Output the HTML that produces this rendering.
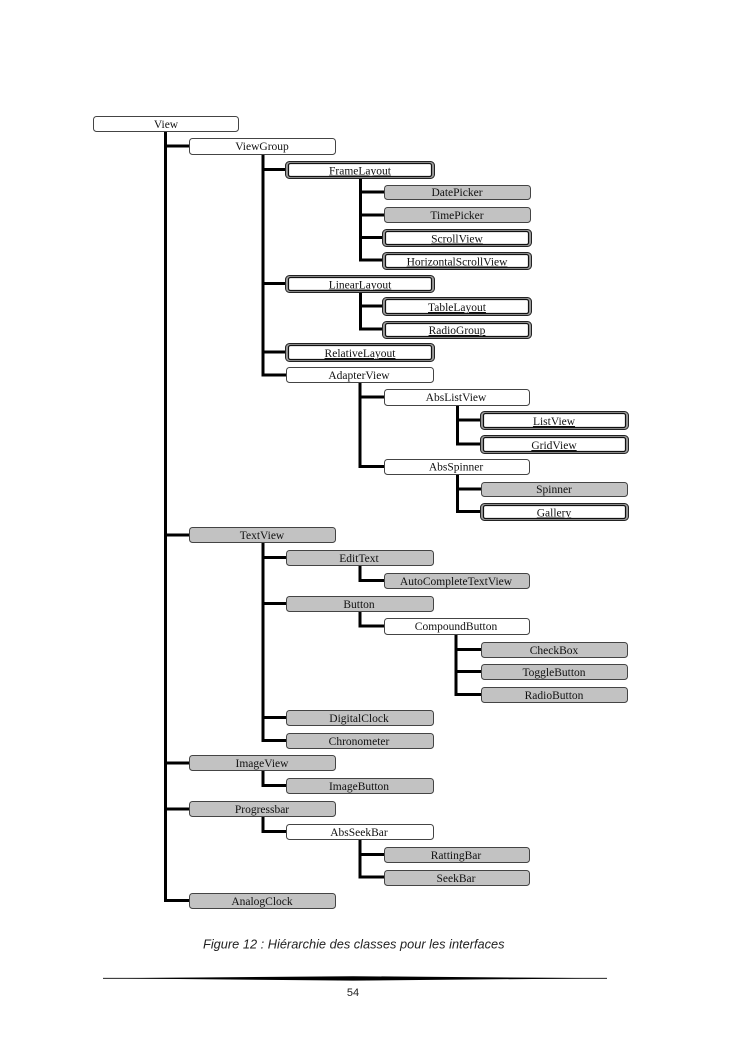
<!DOCTYPE html>
<html><head><meta charset="utf-8"><style>
html,body{margin:0;padding:0;background:#fff;}
body{width:745px;height:1053px;position:relative;overflow:hidden;}
svg{position:absolute;left:0;top:0;}
.t{font-family:"Liberation Serif","DejaVu Serif",serif;font-size:11.5px;fill:#111;text-anchor:middle;}
.u{text-decoration:underline;}
</style></head><body>
<svg width="745" height="1053" viewBox="0 0 745 1053" xmlns="http://www.w3.org/2000/svg">
<g stroke="#000" stroke-width="3" fill="none" stroke-linecap="square">
<!-- main -->
<path d="M165.5 131 V900.5 M165.5 146 H189 M165.5 535 H189 M165.5 763 H189 M165.5 809 H189 M165.5 900.5 H189"/>
<!-- ViewGroup -->
<path d="M263 154 V375 M263 169.5 H285 M263 283.5 H285 M263 352 H285 M263 375 H286"/>
<!-- FrameLayout -->
<path d="M360.5 178 V260 M360.5 192 H384 M360.5 215 H384 M360.5 237.5 H382 M360.5 260 H382"/>
<!-- LinearLayout -->
<path d="M360.5 292 V329 M360.5 306 H382 M360.5 329 H382"/>
<!-- AdapterView -->
<path d="M360 382 V466.5 M360 397 H384 M360 466.5 H384"/>
<!-- AbsListView -->
<path d="M457.5 405 V444 M457.5 420 H480 M457.5 444 H480"/>
<!-- AbsSpinner -->
<path d="M457.5 474 V511.5 M457.5 489 H481 M457.5 511.5 H480"/>
<!-- TextView -->
<path d="M263 543 V740.5 M263 557.5 H286 M263 603.5 H286 M263 717.5 H286 M263 740.5 H286"/>
<!-- EditText -->
<path d="M360 565 V580.5 H384"/>
<!-- Button -->
<path d="M360 611 V626 H384"/>
<!-- CompoundButton -->
<path d="M456 634 V694.5 M456 649.5 H481 M456 671.5 H481 M456 694.5 H481"/>
<!-- ImageView -->
<path d="M263 770 V785.5 H286"/>
<!-- Progressbar -->
<path d="M263 816 V831.5 H286"/>
<!-- AbsSeekBar -->
<path d="M360 839 V877 M360 854.5 H384 M360 877 H384"/>
</g>

<!-- white boxes -->
<g fill="#fff" stroke="#444" stroke-width="1">
<rect x="93.5" y="116.5" width="145" height="15" rx="3"/>
<rect x="189.5" y="138.5" width="146" height="16" rx="3"/>
<rect x="286.5" y="367.5" width="147" height="15" rx="3"/>
<rect x="384.5" y="389.5" width="145" height="16" rx="3"/>
<rect x="384.5" y="459.5" width="145" height="15" rx="3"/>
<rect x="384.5" y="618.5" width="145" height="16" rx="3"/>
<rect x="286.5" y="824.5" width="147" height="15" rx="3"/>
</g>
<!-- gray boxes -->
<g fill="#c2c2c2" stroke="#444" stroke-width="1">
<rect x="384.5" y="185.5" width="146" height="14" rx="3"/>
<rect x="384.5" y="207.5" width="146" height="15" rx="3"/>
<rect x="481.5" y="482.5" width="146" height="14" rx="3"/>
<rect x="189.5" y="527.5" width="146" height="15" rx="3"/>
<rect x="286.5" y="550.5" width="147" height="15" rx="3"/>
<rect x="384.5" y="573.5" width="145" height="15" rx="3"/>
<rect x="286.5" y="596.5" width="147" height="15" rx="3"/>
<rect x="481.5" y="642.5" width="146" height="15" rx="3"/>
<rect x="481.5" y="664.5" width="146" height="15" rx="3"/>
<rect x="481.5" y="687.5" width="146" height="15" rx="3"/>
<rect x="286.5" y="710.5" width="147" height="15" rx="3"/>
<rect x="286.5" y="733.5" width="147" height="15" rx="3"/>
<rect x="189.5" y="755.5" width="146" height="15" rx="3"/>
<rect x="286.5" y="778.5" width="147" height="15" rx="3"/>
<rect x="189.5" y="801.5" width="146" height="15" rx="3"/>
<rect x="384.5" y="847.5" width="145" height="15" rx="3"/>
<rect x="384.5" y="870.5" width="145" height="15" rx="3"/>
<rect x="189.5" y="893.5" width="146" height="15" rx="3"/>
</g>
<!-- double boxes -->
<g>
<g fill="#9a9a9a" stroke="#222" stroke-width="1">
<rect x="285.5" y="161.5" width="149" height="17" rx="4"/>
<rect x="382.5" y="229.5" width="149" height="17" rx="4"/>
<rect x="382.5" y="252.5" width="149" height="17" rx="4"/>
<rect x="285.5" y="275.5" width="149" height="17" rx="4"/>
<rect x="382.5" y="297.5" width="149" height="18" rx="4"/>
<rect x="382.5" y="321.5" width="149" height="17" rx="4"/>
<rect x="285.5" y="343.5" width="149" height="18" rx="4"/>
<rect x="480.5" y="411.5" width="148" height="18" rx="4"/>
<rect x="480.5" y="435.5" width="148" height="18" rx="4"/>
<rect x="480.5" y="503.5" width="148" height="17" rx="4"/>
</g>
<g fill="#fff" stroke="#111" stroke-width="1.2">
<rect x="288.5" y="163.5" width="143" height="13" rx="2"/>
<rect x="385.5" y="231.5" width="143" height="13" rx="2"/>
<rect x="385.5" y="254.5" width="143" height="13" rx="2"/>
<rect x="288.5" y="277.5" width="143" height="13" rx="2"/>
<rect x="385.5" y="299.5" width="143" height="14" rx="2"/>
<rect x="385.5" y="323.5" width="143" height="13" rx="2"/>
<rect x="288.5" y="345.5" width="143" height="14" rx="2"/>
<rect x="483.5" y="413.5" width="142" height="14" rx="2"/>
<rect x="483.5" y="437.5" width="142" height="14" rx="2"/>
<rect x="483.5" y="505.5" width="142" height="13" rx="2"/>
</g>
</g>

<!-- labels -->
<text class="t" x="166" y="128">View</text>
<text class="t" x="262" y="150">ViewGroup</text>
<text class="t u" x="360" y="174.5">FrameLayout</text>
<text class="t" x="457" y="196">DatePicker</text>
<text class="t" x="457" y="219">TimePicker</text>
<text class="t u" x="457" y="242.5">ScrollView</text>
<text class="t u" x="457" y="265.5">HorizontalScrollView</text>
<text class="t u" x="360" y="288.5">LinearLayout</text>
<text class="t u" x="457" y="311">TableLayout</text>
<text class="t u" x="457" y="334">RadioGroup</text>
<text class="t u" x="360" y="357">RelativeLayout</text>
<text class="t" x="359" y="379">AdapterView</text>
<text class="t" x="456" y="401">AbsListView</text>
<text class="t u" x="554" y="425">ListView</text>
<text class="t u" x="554" y="449">GridView</text>
<text class="t" x="456" y="470.5">AbsSpinner</text>
<text class="t" x="554" y="493">Spinner</text>
<text class="t u" x="554" y="516.5">Gallery</text>
<text class="t" x="262" y="539">TextView</text>
<text class="t" x="359" y="562">EditText</text>
<text class="t" x="456" y="585">AutoCompleteTextView</text>
<text class="t" x="359" y="608">Button</text>
<text class="t" x="456" y="630">CompoundButton</text>
<text class="t" x="554" y="654">CheckBox</text>
<text class="t" x="554" y="676">ToggleButton</text>
<text class="t" x="554" y="699">RadioButton</text>
<text class="t" x="359" y="722">DigitalClock</text>
<text class="t" x="359" y="745">Chronometer</text>
<text class="t" x="262" y="767">ImageView</text>
<text class="t" x="359" y="790">ImageButton</text>
<text class="t" x="262" y="813">Progressbar</text>
<text class="t" x="359" y="836">AbsSeekBar</text>
<text class="t" x="456" y="859">RattingBar</text>
<text class="t" x="456" y="882">SeekBar</text>
<text class="t" x="262" y="905">AnalogClock</text>

<!-- caption -->
<text x="203" y="948.5" style="font-family:'Liberation Sans','DejaVu Sans',sans-serif;font-style:italic;font-size:12.8px;fill:#222;">Figure 12 : Hiérarchie des classes pour les interfaces</text>

<!-- tapered rule -->
<line x1="103" y1="978.3" x2="607" y2="978.3" stroke="#000" stroke-width="0.9"/>
<polygon points="103,978.3 353,976.2 607,978.3 353,980.6" fill="#000"/>

<text x="353" y="996" text-anchor="middle" style="font-family:'Liberation Sans','DejaVu Sans',sans-serif;font-size:11px;fill:#222;">54</text>
</svg>
</body></html>
